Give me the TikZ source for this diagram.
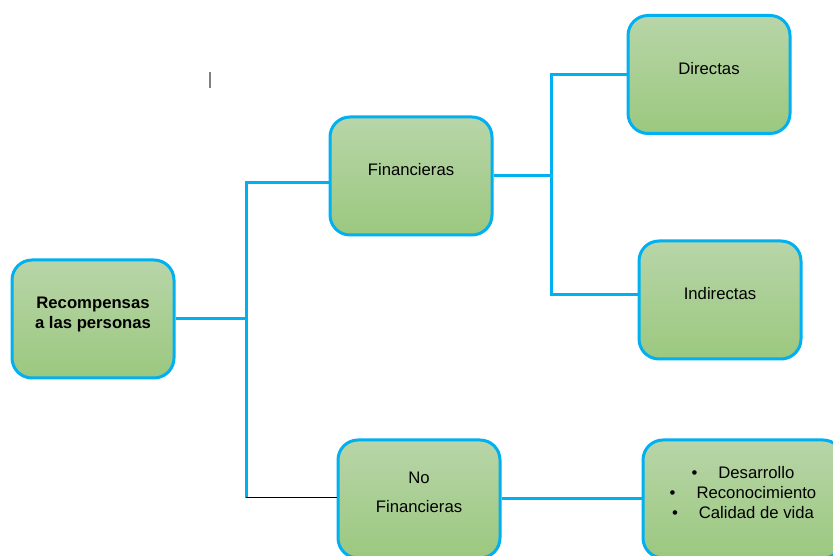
\documentclass[tikz,border=0pt]{standalone}
\usepackage{fontspec}
\setmainfont{Liberation Sans}
\usepackage{xcolor}
\usepackage{tikz}
\usetikzlibrary{calc}

\begin{document}
\begin{tikzpicture}[
    caja/.style={draw=r0g176b240, line width=0.060000cm, rounded corners=0.400000cm,
      top color=r184g213b168, bottom color=r155g200b127,
      minimum width=3.240000cm, minimum height=2.360000cm, align=center,
      text depth=0.260000cm, font=\fontsize{9.5}{11.5}\selectfont},
    enlace/.style={draw=r0g176b240, line width=0.060000cm}]
                        \useasboundingbox (0.000000,0.000000) rectangle (16.660000,11.120000);

                        % Changing colors
                        \definecolor{r0g176b240}{RGB}{0,176,240}%
                        \definecolor{r184g213b168}{RGB}{184,213,168}%
                        \definecolor{r155g200b127}{RGB}{155,200,127}%
                        \definecolor{r128g128b128}{RGB}{128,128,128}%

                        % Placing boxes
                        \node [caja, font=\fontsize{9.5}{11.5}\selectfont\bfseries] (rec) at (1.860000,4.740000) {Recompensas\\a las personas};%
                        \node [caja] (fin) at (8.220000,7.600000) {Financieras};%
                        \node [caja] (nofin) at (8.380000,1.140000) {No\\[0.180000cm]Financieras};%
                        \node [caja] (dir) at (14.180000,9.630000) {Directas};%
                        \node [caja] (ind) at (14.400000,5.120000) {Indirectas};%
                        \node [caja, minimum width=4.000000cm] (lista) at (14.860000,1.140000)
                          {\textbullet\hspace{0.420000cm}Desarrollo\\
                           \textbullet\hspace{0.420000cm}Reconocimiento\\
                           \textbullet\hspace{0.420000cm}Calidad de vida};%

                        % Drawing first branch
                        \coordinate (r1) at (4.920000,7.460000);
                        \coordinate (r2) at (4.920000,1.160000);
                        \draw [enlace] (rec.east) -- (rec.east -| r1);%
                        \draw [enlace] (r2) -- (r1) -- (r1 -| fin.west);%
                        \draw [line width=0.020000cm] (r2) -- (r2 -| nofin.west);%

                        % Drawing second branch
                        \coordinate (r3) at (11.020000,9.620000);
                        \coordinate (r4) at (11.020000,5.220000);
                        \draw [enlace] (fin.east) -- (fin.east -| r3);%
                        \draw [enlace] (r3 -| dir.west) -- (r3) -- (r4) -- (r4 -| ind.west);%
                        \draw [enlace] (nofin.east) -- (lista.west);%

                        % Drawing mark
                        \draw [r128g128b128, line width=0.030000cm] (4.200000,9.680000) -- (4.200000,9.360000);%
                    \end{tikzpicture}
\end{document}
